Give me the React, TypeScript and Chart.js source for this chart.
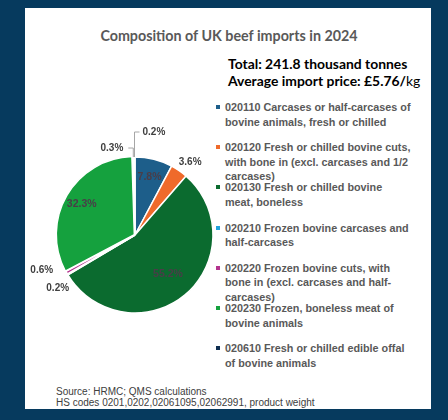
import React, { useEffect, useRef } from "react";
import { Chart, registerables } from "chart.js";

Chart.register(...registerables);

// ---- data ----
const codes = ["020110", "020120", "020130", "020210", "020220", "020230", "020610", "other"];
const shares = [7.8, 3.6, 55.2, 0.2, 0.6, 32.3, 0.3, 0.2];
const legendLines: string[][] = [
  ["020110 Carcases or half-carcases of", "bovine animals, fresh or chilled"],
  ["020120 Fresh or chilled bovine cuts,", "with bone in (excl. carcases and 1/2", "carcases)"],
  ["020130 Fresh or chilled bovine", "meat, boneless"],
  ["020210 Frozen bovine carcases and", "half-carcases"],
  ["020220 Frozen bovine cuts, with", "bone in (excl. carcases and half-", "carcases)"],
  ["020230 Frozen, boneless meat of", "bovine animals"],
  ["020610 Fresh or chilled edible offal", "of bovine animals"],
];
const title = "Composition of UK beef imports in 2024";
const totalText = "Total: 241.8 thousand tonnes";
const priceText = "Average import price: £5.76/";
const priceUnit = "kg";
const sourceLines = ["Source: HRMC; QMS calculations", "HS codes 0201,0202,02061095,02062991, product weight"];

// ---- styles ----
const sliceColors = ["#1d5e8a", "#ef6a2b", "#0b6b2f", "#22a3dc", "#b3338e", "#15a13e", "#0e2e50", "#a6a6a6"];
const sliceOffsets = [0, 0, 0, 0, 0, 3, 0, 0];
type LabelStyle =
  | { mode: "in"; f: number }
  | { mode: "out"; dx: number; dy: number }
  | { mode: "leader"; dy: number; hx: number; gap: number };
const labelStyles: LabelStyle[] = [
  { mode: "in", f: 0.77 },
  { mode: "out", dx: 11, dy: -8 },
  { mode: "in", f: 0.66 },
  { mode: "out", dx: -10, dy: 14 },
  { mode: "out", dx: -25, dy: -2 },
  { mode: "in", f: 0.79 },
  { mode: "leader", dy: -9, hx: -5, gap: 5 },
  { mode: "leader", dy: -25, hx: 5, gap: 3 },
];

const labelPlugin = {
  id: "sliceLabels",
  afterDatasetsDraw(chart: any) {
    const ctx = chart.ctx as CanvasRenderingContext2D;
    const meta = chart.getDatasetMeta(0);
    meta.data.forEach((arc: any, i: number) => {
      const p = arc.getProps(["x", "y", "startAngle", "endAngle", "outerRadius"], true);
      const mid = (p.startAngle + p.endAngle) / 2;
      const txt = shares[i].toFixed(1) + "%";
      const st = labelStyles[i];
      ctx.save();
      ctx.textBaseline = "middle";
      if (st.mode === "in") {
        const r = p.outerRadius * st.f;
        ctx.font = "bold 10.5px 'Liberation Sans', Arial, sans-serif";
        ctx.fillStyle = "#4a3d48";
        ctx.textAlign = "center";
        ctx.fillText(txt, p.x + Math.cos(mid) * r, p.y + Math.sin(mid) * r);
      } else if (st.mode === "out") {
        const ax = p.x + Math.cos(mid) * p.outerRadius;
        const ay = p.y + Math.sin(mid) * p.outerRadius;
        ctx.font = "bold 10px 'Liberation Sans', Arial, sans-serif";
        ctx.fillStyle = "#404040";
        ctx.textAlign = "center";
        ctx.fillText(txt, ax + st.dx, ay + st.dy);
      } else {
        const ax = p.x + Math.cos(mid) * p.outerRadius;
        const ay = p.y + Math.sin(mid) * p.outerRadius;
        const cy = ay + st.dy;
        const ex = ax + st.hx;
        ctx.strokeStyle = "#a6a6a6";
        ctx.lineWidth = 1;
        ctx.beginPath();
        ctx.moveTo(ax, ay);
        ctx.lineTo(ax, cy);
        ctx.lineTo(ex, cy);
        ctx.stroke();
        ctx.font = "bold 10px 'Liberation Sans', Arial, sans-serif";
        ctx.fillStyle = "#404040";
        ctx.textAlign = st.hx > 0 ? "left" : "right";
        ctx.fillText(txt, ex + Math.sign(st.hx) * st.gap, cy);
      }
      ctx.restore();
    });
  },
};

const legendFont = "bold 10.8px 'Liberation Sans', Arial, sans-serif";

export default function App() {
  const ref = useRef<HTMLCanvasElement>(null);
  useEffect(() => {
    if (!ref.current) return;
    const chart = new Chart(ref.current, {
      type: "pie",
      data: {
        labels: codes,
        datasets: [
          {
            data: shares,
            backgroundColor: sliceColors,
            borderColor: "#ffffff",
            borderWidth: 1.5,
            offset: sliceOffsets,
            radius: 78,
          } as any,
        ],
      },
      options: {
        animation: false,
        responsive: false,
        maintainAspectRatio: false,
        layout: { padding: { left: 29, right: 29, top: 36, bottom: 36 } },
        plugins: { legend: { display: false }, tooltip: { enabled: false } },
      },
      plugins: [labelPlugin],
    });
    return () => chart.destroy();
  }, []);

  return (
    <div style={{ position: "absolute", left: 0, top: 0, width: 448, height: 420, background: "#063a5e", overflow: "hidden" }}>
      <div style={{ position: "absolute", left: 25, top: 8, width: 406, height: 401, background: "#ffffff" }} />
      <div
        style={{
          position: "absolute", left: 25, width: 408, top: 27, textAlign: "center",
          font: "bold 14.3px Lato, sans-serif", color: "#595959", whiteSpace: "nowrap",
        }}
      >
        {title}
      </div>
      <div style={{ position: "absolute", left: 228, top: 55, font: "bold 13.9px Lato, sans-serif", color: "#000", whiteSpace: "nowrap", lineHeight: "17px" }}>
        <div>{totalText}</div>
        <div>
          {priceText}
          <span style={{ fontWeight: "normal" }}>{priceUnit}</span>
        </div>
      </div>
      {legendLines.map((lines, i) => (
        <div key={codes[i]} style={{ position: "absolute", left: 216, top: 100 + i * 40.2, whiteSpace: "nowrap" }}>
          <div style={{ position: "absolute", left: 0, top: 5, width: 4, height: 4, background: sliceColors[i] }} />
          <div style={{ position: "absolute", left: 9, top: 0, font: legendFont, color: "#595959", lineHeight: "14.5px" }}>
            {lines.map((l, k) => (
              <div key={k}>{l}</div>
            ))}
          </div>
        </div>
      ))}
      <div style={{ position: "absolute", left: 56, top: 386, font: "10px 'Liberation Sans', Arial, sans-serif", color: "#404040", lineHeight: "11px", whiteSpace: "nowrap" }}>
        {sourceLines.map((l, k) => (
          <div key={k}>{l}</div>
        ))}
      </div>
      <canvas ref={ref} width={214} height={228} style={{ position: "absolute", left: 28, top: 121, width: 214, height: 228 }} />
    </div>
  );
}
